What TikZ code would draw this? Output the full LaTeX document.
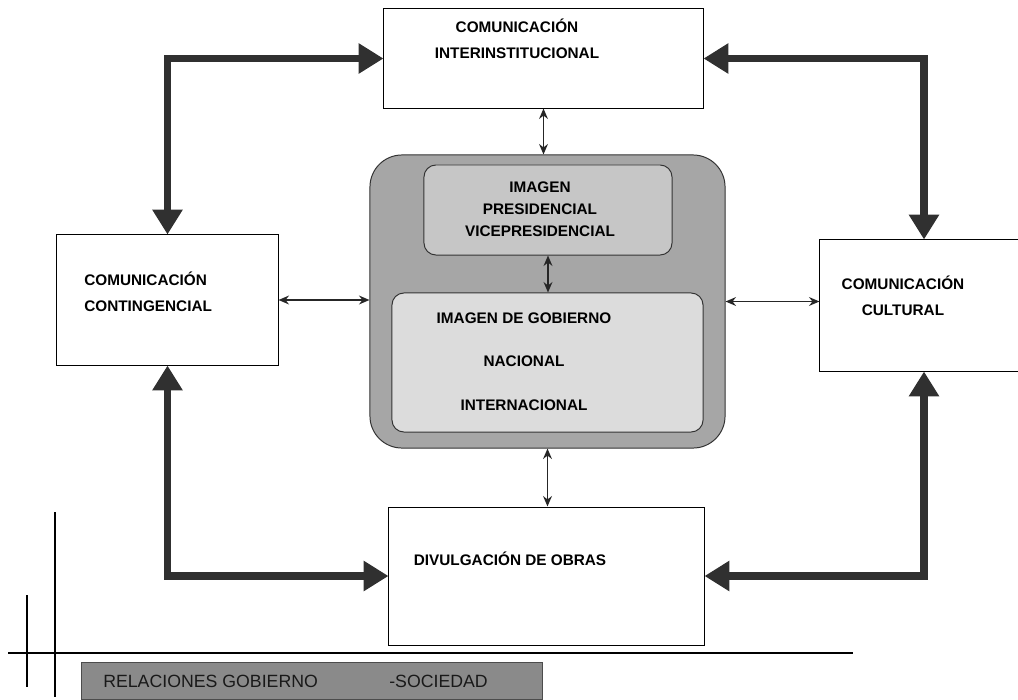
\documentclass[tikz,border=0pt]{standalone}
\usepackage{fontspec}
\setmainfont{Liberation Sans}
\usepackage{tikz}
\usetikzlibrary{arrows.meta}
\definecolor{panah}{HTML}{303030}
\definecolor{abuluar}{HTML}{A6A6A6}
\definecolor{abupres}{HTML}{C6C6C6}
\definecolor{abugob}{HTML}{DCDCDC}
\definecolor{abupita}{HTML}{8A8A8A}

\begin{document}
\begin{tikzpicture}[x=0.025cm,y=-0.025cm,
    box/.style={draw=black,line width=0.7pt,fill=white,inner sep=0pt},
    lbl/.style={font=\bfseries\fontsize{10.9}{18.5}\selectfont,inner sep=0pt,align=center},
    tebal/.style={line width=5.4pt,draw=panah,{Triangle[length=0.62cm,width=0.72cm]}-{Triangle[length=0.62cm,width=0.72cm]}},
    tipis/.style={line width=1.4pt,draw=black!85,{Stealth[length=2.6mm,width=2.2mm]}-{Stealth[length=2.6mm,width=2.2mm]}}]

    \useasboundingbox (0,0) rectangle (1018,699);

    % Gambar kotak komunikasi di keempat sisi
    \node[box,minimum width=7.975cm,minimum height=2.475cm] (inter) at (543.5,58.5) {};
    \node[box,minimum width=5.525cm,minimum height=3.25cm] (conting) at (167.5,300) {};
    \node[box,minimum width=5.2cm,minimum height=3.275cm] (cult) at (924,305.5) {};
    \node[box,minimum width=7.875cm,minimum height=3.45cm] (div) at (546.5,576) {};

    % Gambar kotak tengah (bulat) beserta dua kotak di dalamnya
    \node[box,draw=black!80,fill=abuluar,rounded corners=0.8cm,minimum width=8.875cm,minimum height=7.325cm] (luar) at (547.5,301.5) {};
    \node[box,draw=black!80,fill=abupres,rounded corners=0.3cm,minimum width=6.2cm,minimum height=2.25cm] (pres) at (548,210) {};
    \node[box,draw=black!80,fill=abugob,rounded corners=0.3cm,minimum width=7.775cm,minimum height=3.475cm] (gob) at (547.5,362.5) {};

    % Tulisan di dalam kotak
    \node[lbl] (tinter) at (517,39) {COMUNICACIÓN\\INTERINSTITUCIONAL};
    \node[lbl,anchor=west,align=left] (tconting) at (84,292) {COMUNICACIÓN\\CONTINGENCIAL};
    \node[lbl] (tcult) at (903,296) {COMUNICACIÓN\\CULTURAL};
    \node[lbl] (tdiv) at (510,559) {DIVULGACIÓN DE OBRAS};
    \node[lbl] (tpres) at (540,209) {IMAGEN\\[-2.9pt]PRESIDENCIAL\\[-2.9pt]VICEPRESIDENCIAL};
    \node[lbl] (tgob) at (524,361.5) {IMAGEN DE GOBIERNO\\[12.4pt]NACIONAL\\[12.4pt]INTERNACIONAL};

    % Gambar panah tebal berbentuk siku
    \draw[tebal] (inter.west) -| (conting.north);
    \draw[tebal] (inter.east) -| (cult.north);
    \draw[tebal] (conting.south) |- (div.west);
    \draw[tebal] (cult.south) |- (div.east);

    % Gambar panah tipis dua arah
    \draw[tipis] (inter.south) -- (inter.south |- luar.north);
    \draw[tipis] (pres.south) -- (pres.south |- gob.north);
    \draw[tipis] (conting.east) -- (conting.east -| luar.west);
    \draw[tipis] (luar.east) -- (luar.east -| cult.west);
    \draw[tipis] (luar.south) -- (luar.south |- div.north);

    % Gambar garis pojok kiri bawah dan pita judul
    \draw[line width=1.4pt] (55,512) -- (55,697);
    \draw[line width=1.4pt] (27,595) -- (27,687);
    \draw[line width=1.4pt] (8,653) -- (853,653);
    \node[draw=black!70,fill=abupita,minimum width=11.525cm,minimum height=0.925cm,inner sep=0pt] (pita) at (311.5,680.5) {};
    \node[anchor=west,inner sep=0pt,text=black!90,font=\fontsize{12.6}{14}\selectfont] (trel) at (103,681) {RELACIONES GOBIERNO};
    \node[anchor=west,inner sep=0pt,text=black!90,font=\fontsize{12.6}{14}\selectfont] (tsoc) at (389,681) {-SOCIEDAD};

\end{tikzpicture}
\end{document}
